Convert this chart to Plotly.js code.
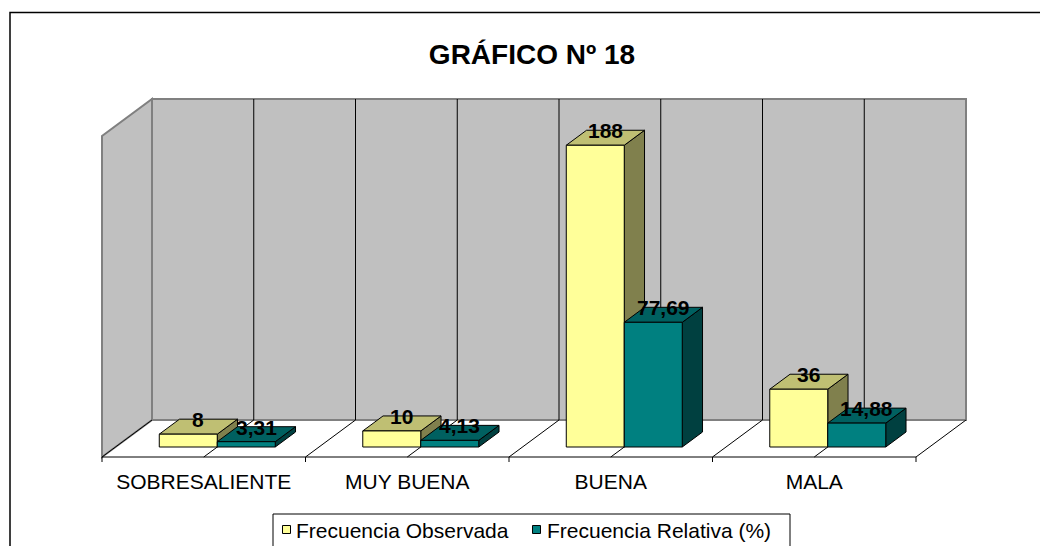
<!DOCTYPE html>
<html><head><meta charset="utf-8">
<script src="https://cdn.plot.ly/plotly-3.0.1.min.js"></script>
<style>html,body{margin:0;padding:0;background:#fff}</style>
</head><body><div id="chart" style="width:1040px;height:546px"></div>
<script>
// ---- data ----
const categories = ['SOBRESALIENTE', 'MUY BUENA', 'BUENA', 'MALA'];
const observada = [8, 10, 188, 36];
const relativa = [3.31, 4.13, 77.69, 14.88];
const seriesNames = ['Frecuencia Observada', 'Frecuencia Relativa (%)'];
const titleText = 'GRÁFICO Nº 18';
const valueMax = 200;

// ---- geometry / styles ----
const W = 1040, H = 546;
const PX_X0 = 102, PX_CAT = 203.5, PX_Y0 = 457, PX_UNIT = 1.605;
const DEPTH_PX_X = 50, DEPTH_PX_Y = 37;
const DX = DEPTH_PX_X / PX_CAT, DY = DEPTH_PX_Y / PX_UNIT;
const BAR_W = 0.285, Z1 = 10 / 37, Z2 = 25 / 37;
const FONT = 'Liberation Sans, Arial, sans-serif';
const palettes = [
  {front: '#FFFF99', top: '#BFBF73', side: '#80804D'},
  {front: '#008080', top: '#006060', side: '#004040'}
];
const nCat = categories.length;

function P(x, z, v) { return [x + z * DX, v + z * DY]; }
function pathOf(pts) {
  return 'M' + pts.map(p => p[0] + ',' + p[1]).join(' L') + ' Z';
}
function lineOf(a, b) { return 'M' + a[0] + ',' + a[1] + ' L' + b[0] + ',' + b[1]; }
function fmt(v) { return String(v).replace('.', ','); }

const shapes = [];
const annotations = [];
// floor
shapes.push({type: 'path', xref: 'x', yref: 'y', layer: 'below',
  path: pathOf([P(0,0,0), P(nCat,0,0), P(nCat,1,0), P(0,1,0)]),
  fillcolor: '#FFFFFF', line: {width: 0}});
// side wall
shapes.push({type: 'path', xref: 'x', yref: 'y', layer: 'below',
  path: pathOf([P(0,0,0), P(0,1,0), P(0,1,valueMax), P(0,0,valueMax)]),
  fillcolor: '#C0C0C0', line: {color: '#808080', width: 2}});
// back wall
shapes.push({type: 'path', xref: 'x', yref: 'y', layer: 'below',
  path: pathOf([P(0,1,0), P(nCat,1,0), P(nCat,1,valueMax), P(0,1,valueMax)]),
  fillcolor: '#C0C0C0', line: {color: '#808080', width: 2}});
// back wall gridlines & floor gridlines (every half category)
for (let k = 0; k <= nCat * 2; k++) {
  const x = k / 2;
  if (k > 0 && k < nCat * 2) {
    shapes.push({type: 'path', xref: 'x', yref: 'y', layer: 'below',
      path: lineOf(P(x,1,0), P(x,1,valueMax)), line: {color: '#000', width: 1}});
  }
  shapes.push({type: 'path', xref: 'x', yref: 'y', layer: 'below',
    path: lineOf(P(x,0,0), P(x,1,0)), line: {color: '#000', width: 1}});
}
// category axis line + ticks
shapes.push({type: 'path', xref: 'x', yref: 'y', layer: 'below',
  path: lineOf(P(0,0,0), P(nCat,0,0)), line: {color: '#000', width: 1}});
for (let i = 0; i <= nCat; i++) {
  shapes.push({type: 'path', xref: 'x', yref: 'y', layer: 'below',
    path: lineOf(P(i,0,0), P(i,0,-5 / PX_UNIT)), line: {color: '#000', width: 1}});
}

// bars (3D boxes)
const traces = [];
[observada, relativa].forEach((vals, s) => {
  const side = {x: [], y: []}, top = {x: [], y: []}, front = {x: [], y: []};
  const add = (o, pts) => { pts.concat([pts[0]]).forEach(p => { o.x.push(p[0]); o.y.push(p[1]); }); o.x.push(null); o.y.push(null); };
  vals.forEach((v, i) => {
    const x0 = i + 0.5 - BAR_W + s * BAR_W, x1 = x0 + BAR_W;
    add(side, [P(x1,Z1,0), P(x1,Z2,0), P(x1,Z2,v), P(x1,Z1,v)]);
    add(top, [P(x0,Z1,v), P(x1,Z1,v), P(x1,Z2,v), P(x0,Z2,v)]);
    add(front, [P(x0,Z1,0), P(x1,Z1,0), P(x1,Z1,v), P(x0,Z1,v)]);
    const c = P((x0 + x1) / 2, (Z1 + Z2) / 2, v);
    annotations.push({x: c[0], y: c[1], xref: 'x', yref: 'y', text: fmt(v), showarrow: false,
      xanchor: 'center', yanchor: 'middle', yshift: 7,
      font: {family: FONT, size: 21, color: '#000', weight: 'bold'}});
  });
  const pal = palettes[s];
  [[side, pal.side], [top, pal.top], [front, pal.front]].forEach(([o, col], j) => {
    traces.push({type: 'scatter', mode: 'lines', x: o.x, y: o.y, fill: 'toself',
      fillcolor: col, line: {color: '#000', width: 1}, hoverinfo: 'skip',
      showlegend: false, name: seriesNames[s]});
  });
});

// outer frame
shapes.push({type: 'rect', xref: 'paper', yref: 'paper', x0: 10 / W, x1: 1.05, y0: -0.05, y1: 1 - 12.5 / H,
  line: {color: '#000', width: 1.5}, fillcolor: 'rgba(0,0,0,0)'});
// legend
shapes.push({type: 'rect', xref: 'paper', yref: 'paper', x0: 273 / W, x1: 790 / W, y0: -0.05, y1: 1 - 514 / H,
  line: {color: '#000', width: 1}, fillcolor: '#fff'});
const legX = [[282.5, 294], [532.5, 545]];
seriesNames.forEach((nm, s) => {
  shapes.push({type: 'rect', xref: 'paper', yref: 'paper', x0: legX[s][0] / W, x1: (legX[s][0] + 8) / W,
    y0: 1 - 533.5 / H, y1: 1 - 525.5 / H, line: {color: '#000', width: 1}, fillcolor: palettes[s].front});
  annotations.push({xref: 'paper', yref: 'paper', x: legX[s][1] / W, y: 1 - 530 / H, text: nm, showarrow: false,
    xanchor: 'left', yanchor: 'middle', font: {family: FONT, size: 21, color: '#000'}});
});

const layout = {
  width: W, height: H, margin: {l: 0, r: 0, t: 0, b: 0},
  paper_bgcolor: '#fff', plot_bgcolor: 'rgba(0,0,0,0)', showlegend: false,
  title: {text: titleText, x: 532 / W, xanchor: 'center', y: 1 - 54 / H, yanchor: 'middle',
    xref: 'paper', yref: 'paper', font: {family: FONT, size: 28, color: '#000', weight: 'bold'}},
  xaxis: {range: [-PX_X0 / PX_CAT, (W - PX_X0) / PX_CAT], showgrid: false, zeroline: false, showline: false,
    tickvals: categories.map((c, i) => i + 0.5), ticktext: categories, ticks: '',
    anchor: 'free', position: (H - PX_Y0) / H, ticklabelstandoff: 10,
    tickfont: {family: FONT, size: 21, color: '#000'}, fixedrange: true},
  yaxis: {range: [-(H - PX_Y0) / PX_UNIT, PX_Y0 / PX_UNIT], visible: false, fixedrange: true},
  shapes: shapes, annotations: annotations
};
Plotly.newPlot('chart', traces, layout, {staticPlot: true, displayModeBar: false});
</script>
</body></html>
